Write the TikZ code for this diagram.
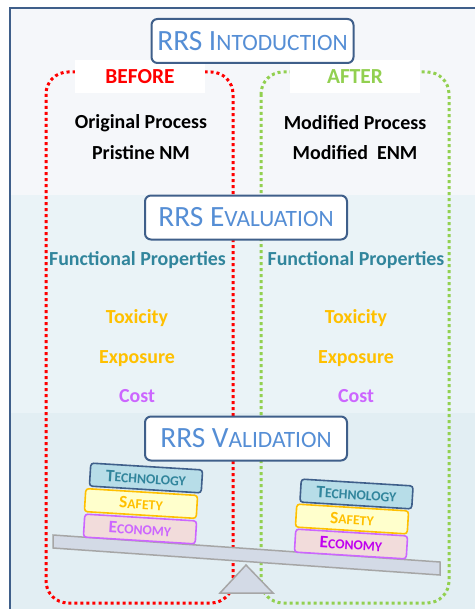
\documentclass[tikz,border=0pt]{standalone}
\usepackage{fontspec}
\setmainfont{Carlito}
\definecolor{frameblue}{HTML}{3F5F8A}
\definecolor{titleblue}{HTML}{558ED5}
\definecolor{bandA}{HTML}{F5F7FA}
\definecolor{bandB}{HTML}{EAF3F7}
\definecolor{bandC}{HTML}{E2EEF3}
\definecolor{beforered}{HTML}{FF0000}
\definecolor{aftergreen}{HTML}{92D050}
\definecolor{tealtext}{HTML}{31859C}
\definecolor{ambertext}{HTML}{FFC000}
\definecolor{lilac}{HTML}{CC66FF}
\definecolor{magentatext}{HTML}{C000F0}
\definecolor{techfill}{HTML}{B7DDE8}
\definecolor{safefill}{HTML}{FFFFCC}
\definecolor{econfill}{HTML}{F2DCDB}
\definecolor{beamfill}{HTML}{D3DAE6}
\definecolor{beamline}{HTML}{A6A6A6}
\newcommand{\sctitle}[1]{{\fontsize{23.5}{23.5}\selectfont #1}}
\newcommand{\scbrick}[1]{{\fontsize{13.8}{13.8}\selectfont #1}}
\tikzset{
  stage/.style={draw=frameblue,line width=2bp,fill=white,rounded corners=6bp,
    text=titleblue,minimum width=202bp,minimum height=44bp,inner sep=0pt,
    font=\fontsize{29.5}{31}\selectfont},
  tag/.style={fill=white,minimum width=130bp,minimum height=33bp,
    font=\bfseries\fontsize{21.5}{23}\selectfont},
  item/.style={font=\bfseries\fontsize{20}{22}\selectfont},
  brick/.style={rounded corners=3bp,line width=1.6bp,minimum width=112bp,
    minimum height=23bp,inner sep=0pt,rotate=-3.5,
    font=\bfseries\fontsize{17.5}{17.5}\selectfont},
  dots/.style={line width=3bp,dash pattern=on 3bp off 3bp}
}
\begin{document}
\begin{tikzpicture}[x=1bp,y=-1bp]
\useasboundingbox (0,0) rectangle (475,609);
% background bands and frame
\fill[bandA] (10,8) rectangle (475,195);
\fill[bandB] (10,195) rectangle (475,413);
\fill[bandC] (10,413) rectangle (475,609);
\draw[frameblue,line width=2bp] (10,620) -- (10,8) -- (480,8);
% before / after
\draw[dots,beforered,rounded corners=22bp] (46,72) rectangle (233,603);
\draw[dots,aftergreen,rounded corners=22bp] (261,72) rectangle (449,603);
\node[tag,text=beforered] (before) at (140,77) {BEFORE};
\node[tag,text=aftergreen] (after) at (355,77) {AFTER};
\node[stage] (intro) at (252.5,41) {RRS I\sctitle{NTODUCTION}};
\node[item] (orig) at (141,123) {Original Process};
\node[item] (pristine) at (141,153) {Pristine NM};
\node[item] (modproc) at (355,123) {Modified Process};
\node[item] (modenm) at (355,153) {Modified~~ENM};
% evaluation
\node[stage] (eval) at (246,217.5) {RRS E\sctitle{VALUATION}};
\node[item,text=tealtext] (funcL) at (137.5,260) {Functional Properties};
\node[item,text=tealtext] (funcR) at (356,260) {Functional Properties};
\node[item,text=ambertext] (toxL) at (137,318) {Toxicity};
\node[item,text=ambertext] (toxR) at (356,318) {Toxicity};
\node[item,text=ambertext] (expL) at (137,359) {Exposure};
\node[item,text=ambertext] (expR) at (356,359) {Exposure};
\node[item,text=lilac] (costL) at (137,396) {Cost};
\node[item,text=lilac] (costR) at (356,396) {Cost};
% validation
\node[stage] (valid) at (246,438.5) {RRS V\sctitle{ALIDATION}};
\draw[beamline,fill=beamfill,line width=1.5bp] (53,535) -- (440,562) -- (440,575) -- (53,548) -- cycle;
\draw[beamline,fill=beamfill,line width=1.5bp] (246,565) -- (273,593) -- (220,593) -- cycle;
\node[brick,draw=frameblue,fill=techfill,text=tealtext] (techL) at (146,478) {T\scbrick{ECHNOLOGY}};
\node[brick,draw=ambertext,fill=safefill,text=ambertext] (safeL) at (141,503.5) {S\scbrick{AFETY}};
\node[brick,draw=lilac,fill=econfill,text=lilac] (econL) at (140,529) {E\scbrick{CONOMY}};
\node[brick,draw=frameblue,fill=techfill,text=tealtext] (techR) at (356.5,494) {T\scbrick{ECHNOLOGY}};
\node[brick,draw=ambertext,fill=safefill,text=ambertext] (safeR) at (352,519) {S\scbrick{AFETY}};
\node[brick,draw=lilac,fill=econfill,text=magentatext] (econR) at (351,544) {E\scbrick{CONOMY}};
\end{tikzpicture}
\end{document}
